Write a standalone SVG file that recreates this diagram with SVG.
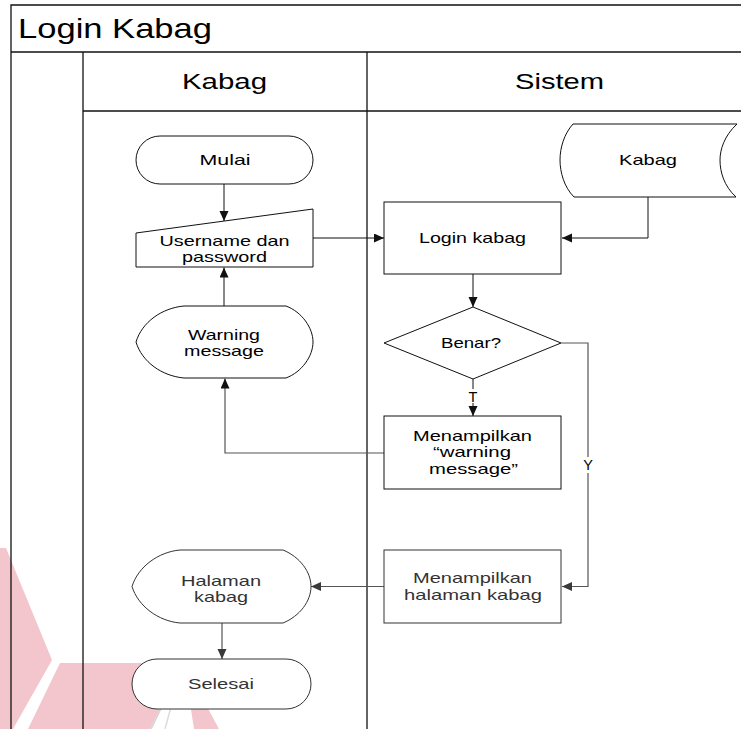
<svg xmlns="http://www.w3.org/2000/svg" width="741" height="729" viewBox="0 0 741 729">
<defs>
<marker id="ah" markerUnits="userSpaceOnUse" markerWidth="10" markerHeight="10" refX="10" refY="4.5" orient="auto">
<path d="M0,0 L10,4.5 L0,9 z" fill="#111"/>
</marker>
<marker id="ahg" markerUnits="userSpaceOnUse" markerWidth="10" markerHeight="10" refX="10" refY="4.5" orient="auto">
<path d="M0,0 L10,4.5 L0,9 z" fill="#3a3a3a"/>
</marker>
</defs>
<style>
.lane{stroke:#111;stroke-width:1.3;fill:none}
.shp{fill:#fff;stroke:#111;stroke-width:1}
.shpg{fill:#fff;stroke:#333;stroke-width:1}
.t{font-family:"Liberation Sans",Arial,sans-serif;font-size:14.5px;text-anchor:middle;fill:#000}
.tg{font-family:"Liberation Sans",Arial,sans-serif;font-size:14.5px;text-anchor:middle;fill:#333}
.con{fill:none;stroke:#111;stroke-width:1}
.cong{fill:none;stroke:#555;stroke-width:1.2}
.wm{fill:#f2c6cc;stroke:none}
</style>
<rect width="741" height="729" fill="#fff"/>
<g id="watermark">
<polygon class="wm" points="0,548 6,548 52,660 13,729 0,729"/>
<polygon class="wm" points="60,663 183,663 150,729 28,729"/>
<polygon class="wm" points="184,664 219,729 194,729"/>
<line x1="183" y1="663" x2="165" y2="729" stroke="#dcdcdc" stroke-width="1.5"/>
<line x1="183" y1="663" x2="151" y2="729" stroke="#d2d2d2" stroke-width="1.5"/>
</g>
<g id="pool">
<path class="lane" d="M11,729 V5 H745"/>
<line class="lane" x1="11" y1="52" x2="741" y2="52"/>
<line class="lane" x1="83" y1="52" x2="83" y2="729"/>
<line class="lane" x1="367" y1="52" x2="367" y2="729"/>
<line class="lane" x1="83" y1="111" x2="741" y2="111"/>
<text x="18" y="38" font-family="Liberation Sans,Arial,sans-serif" font-size="28" textLength="194" lengthAdjust="spacingAndGlyphs">Login Kabag</text>
<text x="224.5" y="89" font-family="Liberation Sans,Arial,sans-serif" font-size="21.5" text-anchor="middle" textLength="85" lengthAdjust="spacingAndGlyphs">Kabag</text>
<text x="559.5" y="89" font-family="Liberation Sans,Arial,sans-serif" font-size="21.5" text-anchor="middle" textLength="89" lengthAdjust="spacingAndGlyphs">Sistem</text>
</g>
<g id="connectors">
<path class="con" d="M224,184 V221" marker-end="url(#ah)"/>
<path class="con" d="M313,238 H384" marker-end="url(#ah)"/>
<path class="con" d="M648,197 V238 H562" marker-end="url(#ah)"/>
<path class="con" d="M473,274 V307" marker-end="url(#ah)"/>
<path class="con" d="M473,379 V416" marker-end="url(#ah)"/>
<path class="cong" d="M384,453 H225 V378.5" marker-end="url(#ah)"/>
<path class="con" d="M224,306 V267.5" marker-end="url(#ah)"/>
<path class="cong" d="M561,343 H588 V586.5 H562" marker-end="url(#ahg)"/>
<path class="cong" d="M384,586.5 H311" marker-end="url(#ahg)"/>
<path class="cong" d="M222,623 V659" marker-end="url(#ahg)"/>
<rect x="466" y="389" width="14" height="14" fill="#fff"/>
<text class="t" x="473" y="402">T</text>
<rect x="581" y="457" width="14" height="16" fill="#fff"/>
<text class="t" x="588" y="470">Y</text>
</g>
<g id="mulai">
<rect class="shp" x="136" y="136" width="177" height="48" rx="24" ry="24"/>
<text class="t" x="225" y="165" textLength="51" lengthAdjust="spacingAndGlyphs">Mulai</text>
</g>
<g id="username">
<polygon class="shp" points="136,233 313,209 313,267 136,267"/>
<text class="t" x="224.5" y="245.5" textLength="130" lengthAdjust="spacingAndGlyphs">Username dan</text>
<text class="t" x="224.5" y="262" textLength="85" lengthAdjust="spacingAndGlyphs">password</text>
</g>
<g id="warning-message">
<path class="shp" d="M184,306 H286 C302,312 313,328 313,342 C313,356 302,372 286,378 H184 C162,376 142,362 136,342 C142,322 162,308 184,306 Z"/>
<text class="t" x="224" y="339.5" textLength="72" lengthAdjust="spacingAndGlyphs">Warning</text>
<text class="t" x="224" y="356" textLength="80" lengthAdjust="spacingAndGlyphs">message</text>
</g>
<g id="kabag-store">
<path class="shp" d="M573,124 H737 C724,136 720,150 720,160 C720,172 724,186 736,197 H574 C564,187 560,172 560,160 C560,148 564,134 573,124 Z"/>
<text class="t" x="648" y="165" textLength="58" lengthAdjust="spacingAndGlyphs">Kabag</text>
</g>
<g id="login-kabag">
<rect class="shp" x="384" y="202" width="177" height="72"/>
<text class="t" x="472.5" y="243" textLength="107" lengthAdjust="spacingAndGlyphs">Login kabag</text>
</g>
<g id="benar">
<polygon class="shp" points="384,343 473,307 561,343 473,379"/>
<text class="t" x="471" y="348" textLength="60" lengthAdjust="spacingAndGlyphs">Benar?</text>
</g>
<g id="tampil-warning">
<rect class="shp" x="384" y="416" width="177" height="73"/>
<text class="t" x="472.5" y="440.5" textLength="119" lengthAdjust="spacingAndGlyphs">Menampilkan</text>
<text class="t" x="472" y="457" textLength="78" lengthAdjust="spacingAndGlyphs">“warning</text>
<text class="t" x="473.5" y="473.5" textLength="89" lengthAdjust="spacingAndGlyphs">message”</text>
</g>
<g id="tampil-halaman">
<rect class="shpg" x="384" y="550" width="177" height="73"/>
<text class="tg" x="472.5" y="582.5" textLength="119" lengthAdjust="spacingAndGlyphs">Menampilkan</text>
<text class="tg" x="473" y="599.5" textLength="138" lengthAdjust="spacingAndGlyphs">halaman kabag</text>
</g>
<g id="halaman-kabag">
<path class="shpg" d="M180,550 H283 C300,557 311,572 311,586.5 C311,601 300,616 283,623 H180 C158,621 138,606 132,586.5 C138,567 158,552 180,550 Z"/>
<text class="tg" x="221" y="585.5" textLength="80" lengthAdjust="spacingAndGlyphs">Halaman</text>
<text class="tg" x="221" y="602" textLength="54" lengthAdjust="spacingAndGlyphs">kabag</text>
</g>
<g id="selesai">
<rect class="shpg" x="132" y="659" width="179" height="50" rx="25" ry="25"/>
<text class="tg" x="221" y="688.5" textLength="66" lengthAdjust="spacingAndGlyphs">Selesai</text>
</g>
</svg>
